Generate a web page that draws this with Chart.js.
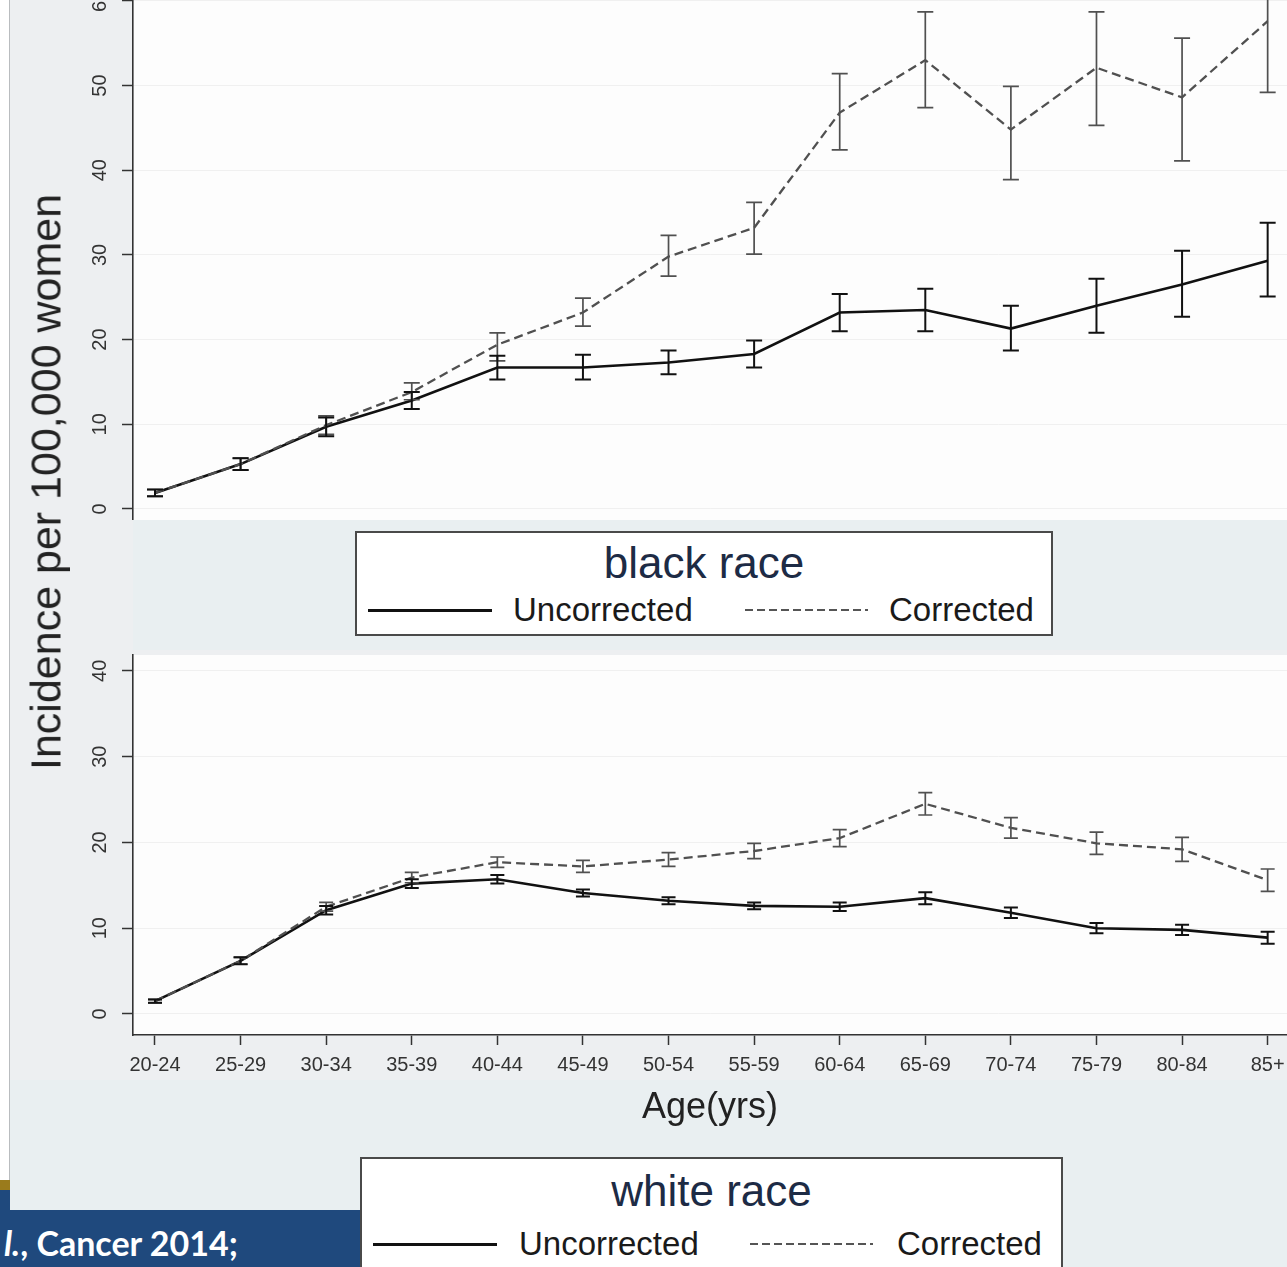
<!DOCTYPE html>
<html>
<head>
<meta charset="utf-8">
<script src="https://cdn.jsdelivr.net/npm/chart.js@4.4.1/dist/chart.umd.min.js"></script>
<style>
  html, body { margin: 0; padding: 0; }
  body { width: 1287px; height: 1267px; position: relative; overflow: hidden; background: #e9eff1; font-family: "Liberation Sans", Arial, sans-serif; }
  .abs { position: absolute; }
  #strip { left: 0; top: 0; width: 9px; height: 1180px; background: #fff; border-right: 1px solid #b9bcbf; }
  #gold { left: 0; top: 1180px; width: 10px; height: 10px; background: #9a7b1c; }
  #strip2 { left: 0; top: 1190px; width: 10px; height: 20px; background: #1f497d; }
  #graph { left: 10px; top: 0; width: 1277px; height: 1080px; background: #edeff1; }
  #band { left: 133px; top: 520px; width: 1154px; height: 130px; background: #e9eff1; }
  #topChart { left: 10px; top: 0; }
  #botChart { left: 10px; top: 645px; }
  #ytitle { left: 46px; top: 482px; width: 0; height: 0; }
  #ytitle span { position: absolute; left: 0; top: 0; white-space: nowrap; font-size: 43px; line-height: 43px; color: #222;
    transform: translate(-50%, -50%) rotate(-90deg); }
  .legend { background: #fff; border: 2px solid #4a4a4a; box-sizing: border-box; }
  .legend .ttl { position: absolute; left: 0; right: 0; text-align: center; font-size: 44px; line-height: 44px; color: #1d2b45; }
  .legend .lab { position: absolute; font-size: 33px; line-height: 33px; color: #1a1a1a; white-space: nowrap; }
  .legend .solid { position: absolute; width: 124px; height: 2.5px; background: #111; }
  .legend .dash { position: absolute; width: 123px; height: 2px;
    background: repeating-linear-gradient(90deg, #555 0 8px, transparent 8px 12px); }
  #banner { left: 0; top: 1210px; width: 360px; height: 57px; background: #1f497d; overflow: hidden; }
  #banner span { position: absolute; left: 4px; top: 12px; font-family: Lato, "Open Sans", sans-serif; font-weight: bold; font-size: 34px; color: #fff; white-space: nowrap; }
</style>
</head>
<body>
<div class="abs" id="graph"></div>
<div class="abs" id="band"></div>
<div class="abs" id="strip"></div>
<div class="abs" id="gold"></div>
<div class="abs" id="strip2"></div>
<canvas class="abs" id="topChart" width="1277" height="520"></canvas>
<canvas class="abs" id="botChart" width="1277" height="490"></canvas>
<div class="abs" id="ytitle"><span>Incidence per 100,000 women</span></div>

<div class="abs legend" style="left:355px; top:531px; width:698px; height:105px;">
  <div class="ttl" style="top:8px;">black race</div>
  <div class="solid" style="left:11px; top:76px;"></div>
  <div class="lab" style="left:156px; top:60px;">Uncorrected</div>
  <div class="dash" style="left:388px; top:76px;"></div>
  <div class="lab" style="left:532px; top:60px;">Corrected</div>
</div>

<div class="abs legend" style="left:360px; top:1157px; width:703px; height:130px;">
  <div class="ttl" style="top:10px;">white race</div>
  <div class="solid" style="left:11px; top:84px;"></div>
  <div class="lab" style="left:157px; top:68px;">Uncorrected</div>
  <div class="dash" style="left:388px; top:84px;"></div>
  <div class="lab" style="left:535px; top:68px;">Corrected</div>
</div>

<div class="abs" id="banner"><span><i>l.</i>, Cancer 2014;</span></div>

<script>
const ageGroups = ["20-24", "25-29", "30-34", "35-39", "40-44", "45-49", "50-54",
                   "55-59", "60-64", "65-69", "70-74", "75-79", "80-84", "85+"];

// black race
const blackUncorrected = [1.9, 5.3, 9.7, 12.8, 16.7, 16.7, 17.3, 18.3, 23.2, 23.5, 21.3, 24.0, 26.5, 29.3];
const blackUncorrectedLow = [1.5, 4.6, 8.6, 11.8, 15.3, 15.3, 15.9, 16.7, 21.0, 21.0, 18.7, 20.8, 22.7, 25.1];
const blackUncorrectedHigh = [2.3, 6.0, 10.8, 13.8, 18.1, 18.2, 18.7, 19.9, 25.4, 26.0, 24.0, 27.2, 30.5, 33.8];
const blackCorrected = [1.9, 5.3, 9.9, 13.8, 19.4, 23.2, 29.8, 33.2, 46.8, 53.0, 44.8, 52.1, 48.6, 57.6];
const blackCorrectedLow = [1.5, 4.6, 8.8, 12.9, 17.5, 21.6, 27.5, 30.1, 42.4, 47.4, 38.9, 45.3, 41.1, 49.2];
const blackCorrectedHigh = [2.3, 6.0, 11.0, 14.9, 20.8, 24.9, 32.3, 36.2, 51.4, 58.7, 49.9, 58.7, 55.6, 66.0];

// white race
const whiteUncorrected = [1.5, 6.2, 12.1, 15.2, 15.7, 14.1, 13.2, 12.6, 12.5, 13.5, 11.8, 10.0, 9.8, 8.9];
const whiteUncorrectedLow = [1.3, 5.8, 11.6, 14.7, 15.2, 13.7, 12.8, 12.2, 12.0, 12.8, 11.2, 9.4, 9.2, 8.2];
const whiteUncorrectedHigh = [1.7, 6.6, 12.6, 15.7, 16.2, 14.5, 13.6, 13.0, 13.0, 14.2, 12.4, 10.6, 10.4, 9.6];
const whiteCorrected = [1.5, 6.2, 12.5, 15.9, 17.7, 17.2, 18.0, 19.0, 20.5, 24.5, 21.7, 19.9, 19.2, 15.6];
const whiteCorrectedLow = [1.3, 5.8, 12.0, 15.3, 17.1, 16.5, 17.2, 18.1, 19.5, 23.2, 20.5, 18.6, 17.8, 14.3];
const whiteCorrectedHigh = [1.7, 6.6, 13.0, 16.5, 18.3, 17.9, 18.8, 19.9, 21.5, 25.8, 22.9, 21.2, 20.6, 16.9];

const yTicksTop = [0, 10, 20, 30, 40, 50, 60];
const yTicksBottom = [0, 10, 20, 30, 40];

Chart.defaults.font.family = '"Liberation Sans", Arial, sans-serif';
Chart.defaults.color = "#333";

const plotBackground = {
  id: "plotBackground",
  beforeDraw(chart) {
    const { ctx, chartArea: a } = chart;
    ctx.save();
    ctx.fillStyle = "#fdfdfd";
    ctx.fillRect(a.left, a.top, a.right - a.left, a.bottom - a.top);
    ctx.restore();
  }
};

const errorBars = {
  id: "errorBars",
  afterDatasetsDraw(chart) {
    const { ctx, chartArea: a, scales } = chart;
    ctx.save();
    ctx.beginPath();
    ctx.rect(a.left, a.top, a.right - a.left, a.bottom - a.top);
    ctx.clip();
    chart.data.datasets.forEach(ds => {
      if (!ds.errLow) return;
      ctx.strokeStyle = ds.errColor;
      ctx.lineWidth = ds.errWidth;
      ctx.setLineDash([]);
      ds.errLow.forEach((lo, i) => {
        const px = scales.x.getPixelForValue(i);
        const y1 = scales.y.getPixelForValue(lo);
        const y2 = scales.y.getPixelForValue(ds.errHigh[i]);
        const c = ds.capHalf;
        ctx.beginPath();
        ctx.moveTo(px, y1); ctx.lineTo(px, y2);
        ctx.moveTo(px - c, y1); ctx.lineTo(px + c, y1);
        ctx.moveTo(px - c, y2); ctx.lineTo(px + c, y2);
        ctx.stroke();
      });
    });
    ctx.restore();
  }
};

function points(values) {
  return values.map((v, i) => ({ x: i, y: v }));
}

function makeDatasets(unc, uncLo, uncHi, cor, corLo, corHi, cap) {
  return [
    {
      label: "Corrected", data: points(cor), borderColor: "#505050", borderWidth: 2.3,
      borderDash: [9, 5], pointRadius: 0, tension: 0,
      errLow: corLo, errHigh: corHi, errColor: "#505050", errWidth: 1.7, capHalf: cap
    },
    {
      label: "Uncorrected", data: points(unc), borderColor: "#111", borderWidth: 2.6,
      pointRadius: 0, tension: 0,
      errLow: uncLo, errHigh: uncHi, errColor: "#111", errWidth: 2, capHalf: cap
    }
  ];
}

function yAxis(min, max, tickValues) {
  return {
    type: "linear", min: min, max: max,
    afterBuildTicks: s => { s.ticks = tickValues.map(v => ({ value: v })); },
    afterFit: s => { s.width = 123; s.paddingTop = 0; s.paddingBottom = 0; },
    ticks: {
      minRotation: 90, maxRotation: 90, crossAlign: "center", padding: 10,
      font: { size: 20 }, color: "#333"
    },
    grid: { color: "#f0f0f0", lineWidth: 1, tickLength: 11, tickColor: "#333", tickWidth: 1.5 },
    border: { display: true, color: "#333", width: 1.6 }
  };
}

const xMin = -0.257, xMax = 13.226;

new Chart(document.getElementById("topChart"), {
  type: "line",
  data: {
    datasets: makeDatasets(blackUncorrected, blackUncorrectedLow, blackUncorrectedHigh,
                           blackCorrected, blackCorrectedLow, blackCorrectedHigh, 8)
  },
  options: {
    responsive: false, animation: false, devicePixelRatio: 1,
    layout: { padding: 0 },
    plugins: { legend: { display: false }, tooltip: { enabled: false } },
    scales: {
      x: { type: "linear", display: false, min: xMin, max: xMax },
      y: yAxis(-1.3, 60.1, yTicksTop)
    }
  },
  plugins: [plotBackground, errorBars]
});

new Chart(document.getElementById("botChart"), {
  type: "line",
  data: {
    datasets: makeDatasets(whiteUncorrected, whiteUncorrectedLow, whiteUncorrectedHigh,
                           whiteCorrected, whiteCorrectedLow, whiteCorrectedHigh, 7)
  },
  options: {
    responsive: false, animation: false, devicePixelRatio: 1,
    layout: { padding: { top: 10, left: 0, right: 0, bottom: 0 } },
    plugins: { legend: { display: false }, tooltip: { enabled: false } },
    scales: {
      x: {
        type: "linear", min: xMin, max: xMax,
        afterBuildTicks: s => { s.ticks = ageGroups.map((g, i) => ({ value: i })); },
        afterFit: s => { s.height = 100; s.paddingLeft = 0; s.paddingRight = 0; },
        ticks: {
          callback: v => ageGroups[v], maxRotation: 0, minRotation: 0, autoSkip: false,
          padding: 8, font: { size: 20 }, color: "#333"
        },
        grid: { drawOnChartArea: false, tickLength: 10, tickColor: "#333", tickWidth: 1.5 },
        border: { display: true, color: "#333", width: 1.6 },
        title: { display: true, text: "Age(yrs)", font: { size: 36 }, color: "#222", padding: { top: 0, bottom: 5 } }
      },
      y: yAxis(-2.45, 41.85, yTicksBottom)
    }
  },
  plugins: [plotBackground, errorBars]
});
</script>
</body>
</html>
